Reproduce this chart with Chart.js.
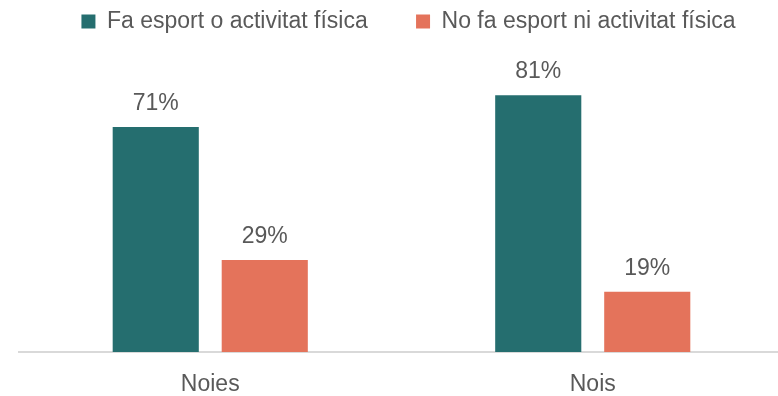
<!DOCTYPE html>
<html>
<head>
<meta charset="utf-8">
<script src="https://cdn.jsdelivr.net/npm/chart.js@4"></script>
<style>
  html, body { margin: 0; padding: 0; background: #fff; overflow: hidden; }
  #wrap { width: 784px; height: 396px; }
</style>
</head>
<body>
<div id="wrap"><canvas id="myChart"></canvas></div>
<script>
let categories = ["Noies", "Nois"];
let seriesNames = ["Fa esport o activitat física", "No fa esport ni activitat física"];
let practica = [71, 81];
let noPractica = [29, 19];

Chart.defaults.font.family = "'Liberation Sans', Arial, sans-serif";
Chart.defaults.color = '#595959';

// draws the value labels above each bar
let barLabels = {
    id: 'barLabels',
    afterDatasetsDraw(chart) {
        let ctx = chart.ctx;
        ctx.save();
        ctx.font = "23px 'Liberation Sans', Arial, sans-serif";
        ctx.fillStyle = '#595959';
        ctx.textAlign = 'center';
        ctx.textBaseline = 'bottom';
        chart.data.datasets.forEach((ds, i) => {
            chart.getDatasetMeta(i).data.forEach((bar, j) => {
                ctx.fillText(ds.data[j] + '%', bar.x, bar.y - 12);
            });
        });
        ctx.restore();
    }
};

// fixed legend height, legend nudged a bit to the right
let legendTweak = {
    id: 'legendTweak',
    beforeInit(chart) {
        let fit = chart.legend.fit;
        chart.legend.fit = function () {
            fit.bind(chart.legend)();
            this.height = 35;
        };
    },
    afterLayout(chart) {
        chart.legend.left += 7;
        chart.legend.right += 7;
    }
};

let bar = document.getElementById('myChart').getContext('2d');
let myBarChart = new Chart(bar, {
    type: 'bar',
    data: {
        labels: categories,
        datasets: [{
            label: seriesNames[0],
            data: practica,
            backgroundColor: '#256e6f',
            categoryPercentage: 0.57,
            barPercentage: 0.79
        }, {
            label: seriesNames[1],
            data: noPractica,
            backgroundColor: '#e4735b',
            categoryPercentage: 0.57,
            barPercentage: 0.79
        }]
    },
    options: {
        responsive: true,
        maintainAspectRatio: false,
        animation: false,
        layout: { padding: { left: 19, right: 0, top: 0, bottom: 0 } },
        plugins: {
            legend: {
                position: 'top',
                labels: {
                    boxWidth: 14,
                    boxHeight: 14,
                    padding: 10,
                    color: '#595959',
                    font: { size: 23 },
                    generateLabels(chart) {
                        let items = Chart.defaults.plugins.legend.labels.generateLabels(chart);
                        items[0].text = items[0].text + '      ';
                        return items;
                    }
                }
            },
            tooltip: { enabled: false }
        },
        scales: {
            x: {
                grid: { display: false, drawTicks: false },
                border: { display: true, color: '#d9d9d9', width: 2 },
                ticks: { padding: 19, color: '#595959', font: { size: 23 } },
                afterFit(scale) { scale.height = 44; }
            },
            y: {
                display: false,
                min: 0,
                max: 100
            }
        }
    },
    plugins: [barLabels, legendTweak]
});
</script>
</body>
</html>
